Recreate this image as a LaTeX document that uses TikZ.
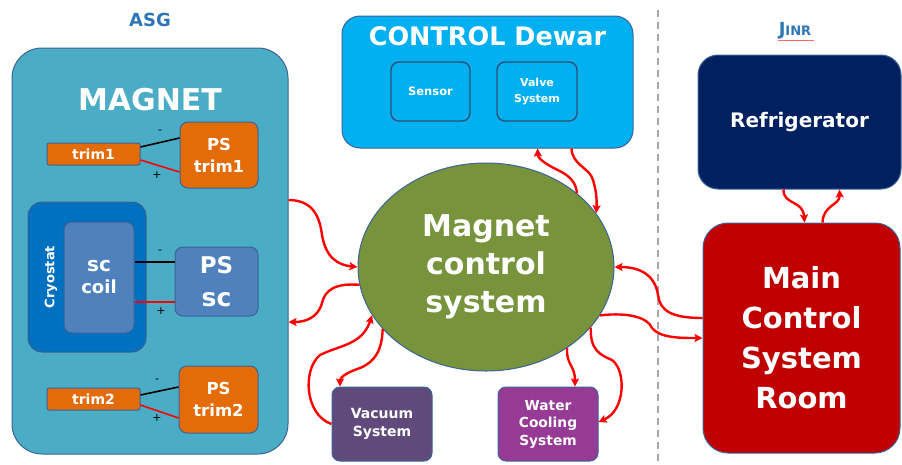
\documentclass[tikz,border=0pt]{standalone}
\usepackage{fontspec}
\setmainfont{DejaVu Sans}
\usetikzlibrary{arrows.meta,shapes.geometric,calc}
\definecolor{magnetfill}{HTML}{4BACC6}
\definecolor{orangefill}{HTML}{E36C09}
\definecolor{cryofill}{HTML}{0070C0}
\definecolor{bluefill}{HTML}{4F81BD}
\definecolor{dewarfill}{HTML}{00B0F0}
\definecolor{mcsfill}{HTML}{77933C}
\definecolor{vacfill}{HTML}{604A7B}
\definecolor{waterfill}{HTML}{973A95}
\definecolor{refrfill}{HTML}{002060}
\definecolor{roomfill}{HTML}{C00000}
\definecolor{edge}{HTML}{3B6396}
\definecolor{titleblue}{HTML}{2E75B6}
\definecolor{arrowred}{HTML}{FF0000}
\definecolor{dashgray}{HTML}{A6A6A6}
\tikzset{
  box/.style={draw=edge, line width=1pt, text=white, font=\bfseries, align=center, inner sep=0pt},
  sz/.style 2 args={font=\bfseries\fontsize{#1}{#2}\selectfont},
  flow/.style={draw=arrowred, line width=2.4pt, -{Stealth[length=8pt,width=8pt,inset=1.5pt]}},
  minusline/.style={draw=black, line width=1.6pt},
  plusline/.style={draw=arrowred, line width=1.6pt},
  sign/.style={font=\fontsize{11}{11}\selectfont, text=black, inner sep=0pt},
}
\begin{document}
\begin{tikzpicture}[x=1pt,y=-1pt]
\useasboundingbox (0,0) rectangle (902,464);

% titles
\node[sz={18}{18}, text=titleblue] (asg) at (150,20) {ASG};
\node[font=\bfseries, text=titleblue] (jinr) at (795,31) {{\fontsize{18}{18}\selectfont J}{\fontsize{13}{13}\selectfont INR}};
\draw[arrowred!60, line width=0.6pt] ([xshift=-17pt,yshift=-9pt]jinr.center) -- ([xshift=19pt,yshift=-9pt]jinr.center);

% dashed separator
\coordinate (sepTop) at (658,10);
\coordinate (sepBot) at (658,464);
\draw[dashgray, line width=1.3pt, dash pattern=on 7pt off 5pt] (sepTop) -- (sepBot);

% MAGNET group
\node[box, fill=magnetfill, rounded corners=30pt, minimum width=276pt, minimum height=406pt] (magnet) at (150,251) {};
\node[sz={30}{30}, text=white] (magnettitle) at (150,100) {MAGNET};

\node[box, fill=orangefill, rounded corners=2pt, minimum width=93pt, minimum height=22pt, sz={14}{14}] (trim1) at (93.5,154) {trim1};
\node[box, fill=orangefill, rounded corners=8pt, minimum width=78pt, minimum height=66pt, sz={16.5}{22}] (pstrim1) at (219,155) {PS\\trim1};
\draw[minusline] ([yshift=7pt]trim1.east) -- ([yshift=17pt]pstrim1.west);
\draw[plusline] ([yshift=-6pt]trim1.east) -- ([yshift=-17pt]pstrim1.west);
\node[sign] (m1) at (160,132) {-};
\node[sign] (p1) at (157,175) {+};

\node[box, fill=cryofill, rounded corners=14pt, minimum width=118pt, minimum height=150pt] (cryostat) at (87,277) {};
\node[sz={13}{13}, text=white, rotate=90] (cryolabel) at (51,277) {Cryostat};
\node[box, fill=bluefill, rounded corners=8pt, minimum width=70pt, minimum height=111pt, sz={18}{22}] (sccoil) at (99,277.5) {{\fontsize{20}{22}\selectfont sc}\\coil};
\node[box, fill=bluefill, rounded corners=8pt, minimum width=83pt, minimum height=69pt, sz={23}{33}] (pssc) at (216.5,281.5) {PS\\{\fontsize{25}{33}\selectfont sc}};
\draw[minusline] ([yshift=15.5pt]sccoil.east) -- ([yshift=19.5pt]pssc.west);
\draw[plusline] ([yshift=-24.5pt]sccoil.east) -- ([yshift=-20.5pt]pssc.west);
\node[sign] (m2) at (160,252) {-};
\node[sign] (p2) at (161,311) {+};

\node[box, fill=orangefill, rounded corners=2pt, minimum width=93pt, minimum height=22pt, sz={14}{14}] (trim2) at (93.5,399) {trim2};
\node[box, fill=orangefill, rounded corners=8pt, minimum width=79pt, minimum height=67pt, sz={16.5}{22}] (pstrim2) at (218.5,399.5) {PS\\trim2};
\draw[minusline] ([yshift=4pt]trim2.east) -- ([yshift=12.5pt]pstrim2.west);
\draw[plusline] ([yshift=-6pt]trim2.east) -- ([yshift=-18.5pt]pstrim2.west);
\node[sign] (m3) at (157,381) {-};
\node[sign] (p3) at (157,418) {+};

% CONTROL Dewar
\node[box, fill=dewarfill, rounded corners=18pt, minimum width=291pt, minimum height=132pt] (dewar) at (487.5,82) {};
\node[sz={25.5}{25.5}, text=white] (dewartitle) at (487.5,36) {CONTROL Dewar};
\node[box, fill=dewarfill, draw=edge!80!black, line width=1.4pt, rounded corners=8pt, minimum width=79pt, minimum height=59pt, sz={11.5}{16}] (sensor) at (430.5,91.5) {Sensor};
\node[box, fill=dewarfill, draw=edge!80!black, line width=1.4pt, rounded corners=8pt, minimum width=80pt, minimum height=59pt, sz={11}{16}] (valve) at (537,91.5) {Valve\\System};

% Magnet control system
\node[ellipse, draw=edge, line width=1pt, fill=mcsfill, minimum width=256pt, minimum height=208pt, inner sep=0pt, text=white, align=center, sz={30}{38}] (mcs) at (486,267) {Magnet\\control\\system};

% Vacuum and water
\node[box, fill=vacfill, rounded corners=8pt, minimum width=100pt, minimum height=74pt, sz={14}{18}] (vacuum) at (382,424) {Vacuum\\System};
\node[box, fill=waterfill, rounded corners=8pt, minimum width=100pt, minimum height=74pt, sz={13.8}{17.5}] (water) at (548,424) {Water\\Cooling\\System};

% JINR side
\node[box, fill=refrfill, rounded corners=20pt, minimum width=203pt, minimum height=134pt, sz={20}{20}] (refr) at (799.5,122) {Refrigerator};
\node[box, fill=roomfill, rounded corners=25pt, minimum width=197pt, minimum height=230pt, sz={29}{40}] (room) at (801.5,338) {Main\\Control\\System\\Room};

% connectors
\draw[flow] ([yshift=51pt]magnet.east) .. controls (315,200) and (320,220) .. (322,235) .. controls (326,258) and (338,265) .. (mcs.180);
\draw[flow] (mcs.188) .. controls (335,283) and (325,290) .. (322,303) .. controls (318,318) and (305,322) .. ([yshift=-71pt]magnet.east);
\draw[flow] (vacuum.west) .. controls (305,415) and (302,370) .. (320,355) .. controls (340,345) and (362,345) .. (mcs.203);
\draw[flow] (mcs.211) .. controls (382,350) and (375,362) .. (360,368) .. controls (345,373) and (340,378) .. ([xshift=-42pt]vacuum.north);
\draw[flow] (mcs.315) .. controls (566,365) and (575,365) .. ([xshift=27pt]water.north);
\draw[flow] (mcs.330) .. controls (590,350) and (600,355) .. (612,360) .. controls (626,370) and (626,410) .. ([yshift=2pt]water.east);
\draw[flow] ([yshift=20pt]room.west) .. controls (670,318) and (660,310) .. (658,295) .. controls (655,275) and (640,267) .. (mcs.0);
\draw[flow] (mcs.337) .. controls (630,312) and (648,318) .. (652,328) .. controls (660,338) and (680,338) .. (room.west);
\draw[flow] (mcs.39) .. controls (575,175) and (560,172) .. (550,166) .. controls (542,161) and (538,158) .. ([xshift=50pt]dewar.south);
\draw[flow] ([xshift=84pt]dewar.south) .. controls (572,165) and (590,168) .. (593,180) .. controls (596,190) and (597,198) .. (mcs.26);
\draw[flow] ([xshift=-16pt]refr.south) .. controls (783,205) and (803,200) .. ([xshift=3pt]room.north);
\draw[flow] ([xshift=21pt]room.north) .. controls (823,205) and (840,205) .. ([xshift=40pt]refr.south);
\end{tikzpicture}
\end{document}
